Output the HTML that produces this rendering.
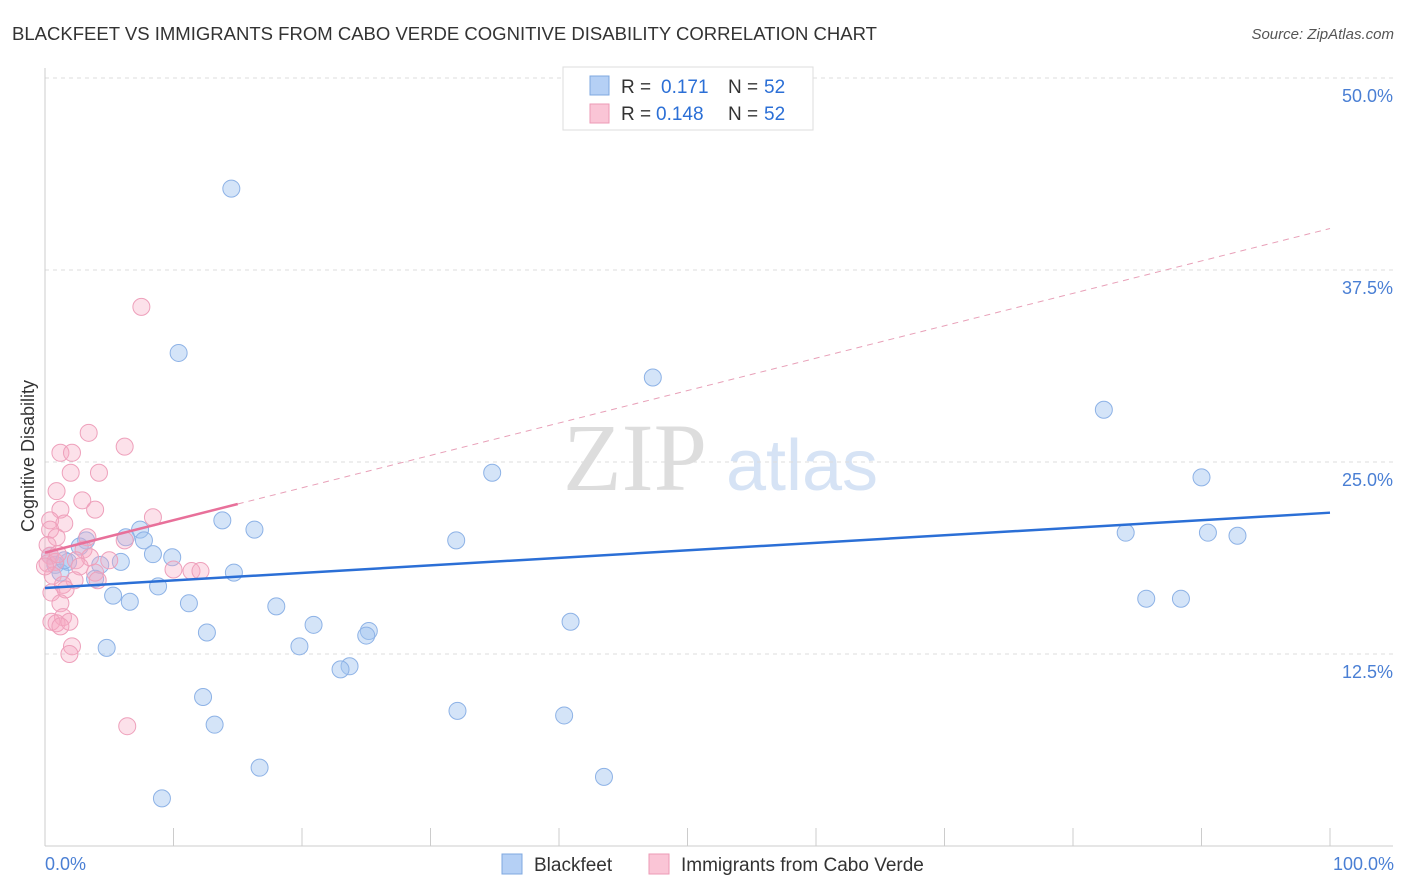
<!DOCTYPE html>
<html><head><meta charset="utf-8"><style>
body{margin:0;background:#fff;font-family:"Liberation Sans",sans-serif}
svg{display:block}
</style></head><body>
<svg id="chart" width="1406" height="892" viewBox="0 0 1406 892">
<text x="12" y="40" font-size="18" fill="#333" textLength="865" lengthAdjust="spacingAndGlyphs">BLACKFEET VS IMMIGRANTS FROM CABO VERDE COGNITIVE DISABILITY CORRELATION CHART</text>
<text x="1394" y="39" font-size="15" fill="#555" font-style="italic" text-anchor="end">Source: ZipAtlas.com</text>
<g>
<text x="635" y="490" font-size="96" fill="#ddd" font-family="Liberation Serif,serif" text-anchor="middle">ZIP</text>
<text x="802" y="490" font-size="72" fill="#d6e3f5" text-anchor="middle">atlas</text>
</g>
<g id="grid"></g>
<g id="axes"></g>
<g id="marks"></g>
<text transform="translate(34,456) rotate(-90)" font-size="18" fill="#333" text-anchor="middle">Cognitive Disability</text>
<text x="45" y="870" font-size="18" fill="#4a7fd4">0.0%</text>
<text x="1394" y="870" font-size="18" fill="#4a7fd4" text-anchor="end">100.0%</text>
<g>
<rect x="563" y="67" width="250" height="63" fill="#fff" stroke="#ddd"/>
<rect x="590" y="76" width="19" height="19" fill="#b5d0f5" stroke="#7fa8e0"/>
<rect x="590" y="104" width="19" height="19" fill="#fac5d6" stroke="#ec9ab6"/>
<text x="621" y="93" font-size="19" fill="#333">R =</text>
<text x="661" y="93" font-size="19" fill="#2b6fd6">0.171</text>
<text x="728" y="93" font-size="19" fill="#333">N =</text>
<text x="764" y="93" font-size="19" fill="#2b6fd6">52</text>
<text x="621" y="120" font-size="19" fill="#333">R =</text>
<text x="656" y="120" font-size="19" fill="#2b6fd6">0.148</text>
<text x="728" y="120" font-size="19" fill="#333">N =</text>
<text x="764" y="120" font-size="19" fill="#2b6fd6">52</text>
</g>
<g>
<rect x="502" y="854" width="20" height="20" fill="#b5d0f5" stroke="#7fa8e0"/>
<text x="534" y="871" font-size="19" fill="#333">Blackfeet</text>
<rect x="649" y="854" width="20" height="20" fill="#fac5d6" stroke="#ec9ab6"/>
<text x="681" y="871" font-size="19" fill="#333">Immigrants from Cabo Verde</text>
</g>
</svg>
<script>
const yTicks=[12.5,25,37.5,50];
const yTickLabels=["12.5%","25.0%","37.5%","50.0%"];
const xTicks=[0,10,20,30,40,50,60,70,80,90,100];
const blueX=[14.5,10.4,47.3,82.4,34.8,90.0,13.8,16.3,7.4,6.3,7.7,32.0,84.1,90.5,92.8,3.2,2.7,8.4,9.9,5.9,4.3,1.8,0.8,1.2,14.7,3.9,8.8,5.3,6.6,11.2,85.7,88.4,18.0,40.9,20.9,25.2,25.0,12.6,19.8,4.8,23.7,23.0,12.3,32.1,40.4,13.2,16.7,43.5,9.1,50.0,0.4,1.5];
const blueY=[42.8,32.1,30.5,28.4,24.3,24.0,21.2,20.6,20.6,20.1,19.9,19.9,20.4,20.4,20.2,19.9,19.5,19.0,18.8,18.5,18.3,18.5,18.3,17.8,17.8,17.4,16.9,16.3,15.9,15.8,16.1,16.1,15.6,14.6,14.4,14.0,13.7,13.9,13.0,12.9,11.7,11.5,9.7,8.8,8.5,7.9,5.1,4.5,3.1,50.0,18.9,18.6];
const pinkX=[7.5,3.4,6.2,1.2,2.1,2.0,4.2,0.9,2.9,3.9,1.2,8.4,0.4,1.5,0.4,3.3,6.2,0.9,0.2,3.0,0.4,3.5,2.4,0.2,0.8,3.9,10.0,11.4,12.1,0.6,2.3,4.1,1.4,0.5,1.6,1.2,1.4,0.5,0.9,1.9,1.2,2.1,1.9,6.4,0.0,2.7,5.0,1.0];
const pinkY=[35.1,26.9,26.0,25.6,25.6,24.3,24.3,23.1,22.5,21.9,21.9,21.4,21.2,21.0,20.6,20.1,19.9,20.1,19.6,19.3,18.9,18.8,18.6,18.4,18.5,17.8,18.0,17.9,17.9,17.6,17.3,17.3,17.0,16.5,16.7,15.8,14.9,14.6,14.5,14.6,14.3,13.0,12.5,7.8,18.2,18.2,18.6,19.0];
const blueTrend=[16.8,21.7];
const pinkTrend=[19.1,40.2];
const pinkSolidEnd=15;
const X=v=>45+v*12.85, Y=v=>846-v*15.36;
const NS="http://www.w3.org/2000/svg";
function mk(tag,attrs,parent){const e=document.createElementNS(NS,tag);for(const k in attrs)e.setAttribute(k,attrs[k]);document.getElementById(parent).appendChild(e);return e;}
yTicks.forEach((t,i)=>{
 const g=mk("line",{x1:45,x2:1393,y1:Y(t),y2:Y(t),stroke:"#ddd","stroke-dasharray":"4,4"},"grid");
 
 
 const l=mk("text",{x:1393,y:Y(t)+24,"font-size":18,fill:"#4a7fd4","text-anchor":"end"},"grid");
 l.textContent=yTickLabels[i];
 
 
});
const ya=mk("line",{x1:45,x2:45,y1:68,y2:846,stroke:"#ccc"},"axes");


const xa=mk("line",{x1:45,x2:1393,y1:846,y2:846,stroke:"#ccc"},"axes");


xTicks.forEach(t=>{const e=mk("line",{x1:X(t),x2:X(t),y1:828,y2:846,stroke:"#ccc"},"axes");
 
 });
blueX.forEach((v,i)=>{const c=mk("circle",{cx:X(v),cy:Y(blueY[i]),r:8.5,fill:"rgba(160,195,240,0.45)",stroke:"#8db2e6","stroke-width":1},"marks");
 
 });
pinkX.forEach((v,i)=>{const c=mk("circle",{cx:X(v),cy:Y(pinkY[i]),r:8.5,fill:"rgba(245,170,195,0.35)",stroke:"#eea0bb","stroke-width":1},"marks");
 
 });
const pv=x=>pinkTrend[0]+(pinkTrend[1]-pinkTrend[0])*x/100;
const pd=mk("line",{x1:X(pinkSolidEnd),y1:Y(pv(pinkSolidEnd)),x2:X(100),y2:Y(pinkTrend[1]),stroke:"#e8a0b8","stroke-dasharray":"6,5","stroke-width":1},"marks");


const ps=mk("line",{x1:X(0),y1:Y(pinkTrend[0]),x2:X(pinkSolidEnd),y2:Y(pv(pinkSolidEnd)),stroke:"#e8709a","stroke-width":2.5},"marks");


const bl=mk("line",{x1:X(0),y1:Y(blueTrend[0]),x2:X(100),y2:Y(blueTrend[1]),stroke:"#2b6fd6","stroke-width":2.5},"marks");


</script>
</body></html>
